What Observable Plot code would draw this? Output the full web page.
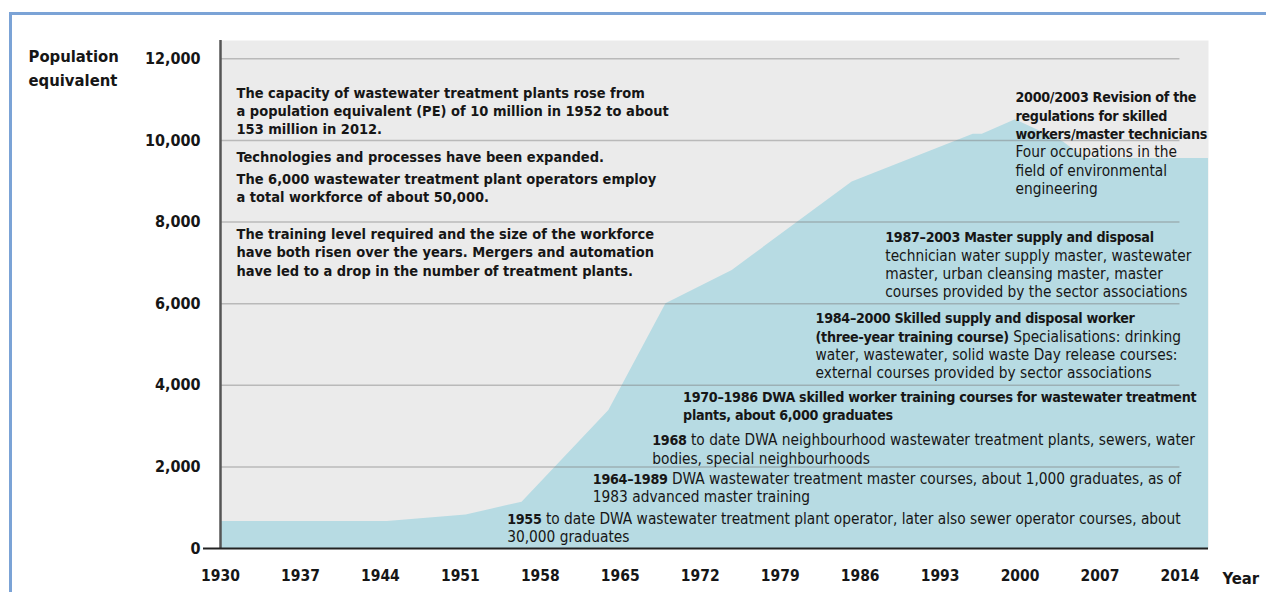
<!DOCTYPE html>
<html><head><meta charset="utf-8">
<script src="https://cdn.jsdelivr.net/npm/d3@7"></script>
<script src="https://cdn.jsdelivr.net/npm/@observablehq/plot@0.6"></script>
<style>
html,body{margin:0;padding:0;background:#fff;overflow:hidden;width:1266px;height:592px;}
#frame{position:absolute;left:9px;top:12px;width:1400px;height:800px;border:3px solid #7ba3d6;box-sizing:border-box;}
#chart{position:absolute;left:0;top:0;}
svg text{font-stretch:condensed;}
</style></head><body>
<div id="frame"></div>
<div id="chart"></div>
<script>
// Series: population equivalent (thousands) by year
const years = [1930, 1944.6, 1951.5, 1956.4, 1964.0, 1969.0, 1974.8, 1985.3, 1995.9, 1996.7, 1999.6, 2003.8, 2005.7, 2016.5];
const pe    = [660,  660,    820,    1135,   3380,   6000,   6815,   8980,   10150,  10150,  10510,  9960,   9560,   9560];

const yTicks = [0, 2000, 4000, 6000, 8000, 10000, 12000];
const xTicks = [1930, 1937, 1944, 1951, 1958, 1965, 1972, 1979, 1986, 1993, 2000, 2007, 2014];

const leftNotes = [
  "The capacity of wastewater treatment plants rose from\na population equivalent (PE) of 10 million in 1952 to about\n153 million in 2012.",
  "Technologies and processes have been expanded.",
  "The 6,000 wastewater treatment plant operators employ\na total workforce of about 50,000.",
  "The training level required and the size of the workforce\nhave both risen over the years. Mergers and automation\nhave led to a drop in the number of treatment plants."
];
const leftNoteYears = [1931.4, 1931.4, 1931.4, 1931.4];
const leftNotePE    = [10150, 9470, 8490, 6690];

const milestones = [
  "**2000/2003 Revision of the**\n**regulations for skilled**\n**workers/master technicians**\nFour occupations in the\nfield of environmental\nengineering",
  "**1987–2003 Master supply and disposal**\ntechnician water supply master, wastewater\nmaster, urban cleansing master, master\ncourses provided by the sector associations",
  "**1984–2000 Skilled supply and disposal worker**\n**(three-year training course)** Specialisations: drinking\nwater, wastewater, solid waste Day release courses:\nexternal courses provided by sector associations",
  "**1970–1986 DWA skilled worker training courses for wastewater treatment**\n**plants, about 6,000 graduates**",
  "**1968** to date DWA neighbourhood wastewater treatment plants, sewers, water\nbodies, special neighbourhoods",
  "**1964–1989** DWA wastewater treatment master courses, about 1,000 graduates, as of\n1983 advanced master training",
  "**1955** to date DWA wastewater treatment plant operator, later also sewer operator courses, about\n30,000 graduates"
];
const milestoneYears = [1999.6, 1988.2, 1982.1, 1970.5, 1967.8, 1962.6, 1955.1];
const milestonePE    = [8690, 6160, 4170, 3140, 2080, 1130, 150];

const yLabel = "Population\nequivalent";
const xLabel = "Year";

const series = years.map((y, i) => ({year: y, pe: pe[i]}));
const left = leftNotes.map((t, i) => ({text: t, year: leftNoteYears[i], pe: leftNotePE[i]}));
const miles = milestones.map((t, i) => ({text: t, year: milestoneYears[i], pe: milestonePE[i]}));

const FONT = '"DejaVu Sans Condensed", "DejaVu Sans", sans-serif';
const INK = "#161616";

const chart = Plot.plot({
  width: 1266, height: 592,
  marginLeft: 220, marginRight: 58, marginTop: 40, marginBottom: 44,
  style: {fontFamily: FONT, background: "transparent", color: INK},
  x: {domain: [1930, 2016.5]},
  y: {domain: [0, 12450]},
  marks: [
    Plot.frame({fill: "#ebebeb", stroke: null}),
    Plot.areaY(series, {x: "year", y: "pe", fill: "#b7dbe3"}),
    Plot.ruleY(yTicks.filter(d => d > 0), {x1: xTicks[0], x2: xTicks[xTicks.length - 1], stroke: "#7d7d7d", strokeOpacity: 0.45, strokeWidth: 1.5}),
    Plot.ruleX([xTicks[0]], {stroke: "#555", strokeWidth: 2.5}),
    Plot.ruleY([0], {stroke: "#222", strokeWidth: 2}),
    Plot.axisY({ticks: [0], tickSize: 17, tickFormat: () => "", stroke: "#222", strokeWidth: 2, label: null}),
    Plot.axisY({ticks: yTicks, tickSize: 0, tickPadding: 20, tickFormat: d3.format(","), label: null,
      fontSize: 16, fontWeight: "bold", fill: INK}),
    Plot.axisX({ticks: xTicks, tickSize: 0, tickPadding: 21, tickFormat: d => String(d), label: null,
      fontSize: 15.5, fontWeight: "bold", fill: INK}),
    Plot.text([yLabel], {frameAnchor: "top-left", dx: -192, dy: 45, textAnchor: "start", lineAnchor: "bottom",
      fontSize: 16.5, fontWeight: "bold", lineHeight: 23.3 / 16.5, fill: INK}),
    Plot.text([xLabel], {frameAnchor: "bottom-right", dx: 14, dy: 35, textAnchor: "start", lineAnchor: "bottom",
      fontSize: 16.5, fontWeight: "bold", fill: INK}),
    Plot.text(left, {x: "year", y: "pe", text: "text", textAnchor: "start", lineAnchor: "bottom",
      fontSize: 14.5, fontWeight: "bold", lineHeight: 18.3 / 14.5, fill: INK}),
    Plot.text(miles, {x: "year", y: "pe", text: "text", textAnchor: "start", lineAnchor: "bottom",
      fontSize: 15.3, lineHeight: 18.3 / 15.3, fill: INK})
  ]
});

// Turn **...** spans into bold tspans
const NS = "http://www.w3.org/2000/svg";
function boldify(el) {
  const s = el.textContent;
  if (!s.includes("**")) return;
  el.textContent = "";
  s.split("**").forEach((part, i) => {
    if (!part) return;
    const t = document.createElementNS(NS, "tspan");
    if (i % 2 === 1) {
      t.setAttribute("font-weight", "bold");
      t.setAttribute("font-size", "14.2");
      t.setAttribute("letter-spacing", "-0.3");
    }
    t.textContent = part;
    el.appendChild(t);
  });
}
chart.querySelectorAll("text").forEach(txt => {
  const spans = txt.querySelectorAll("tspan");
  if (spans.length) spans.forEach(boldify); else boldify(txt);
});
document.getElementById("chart").appendChild(chart);
</script>
</body></html>
